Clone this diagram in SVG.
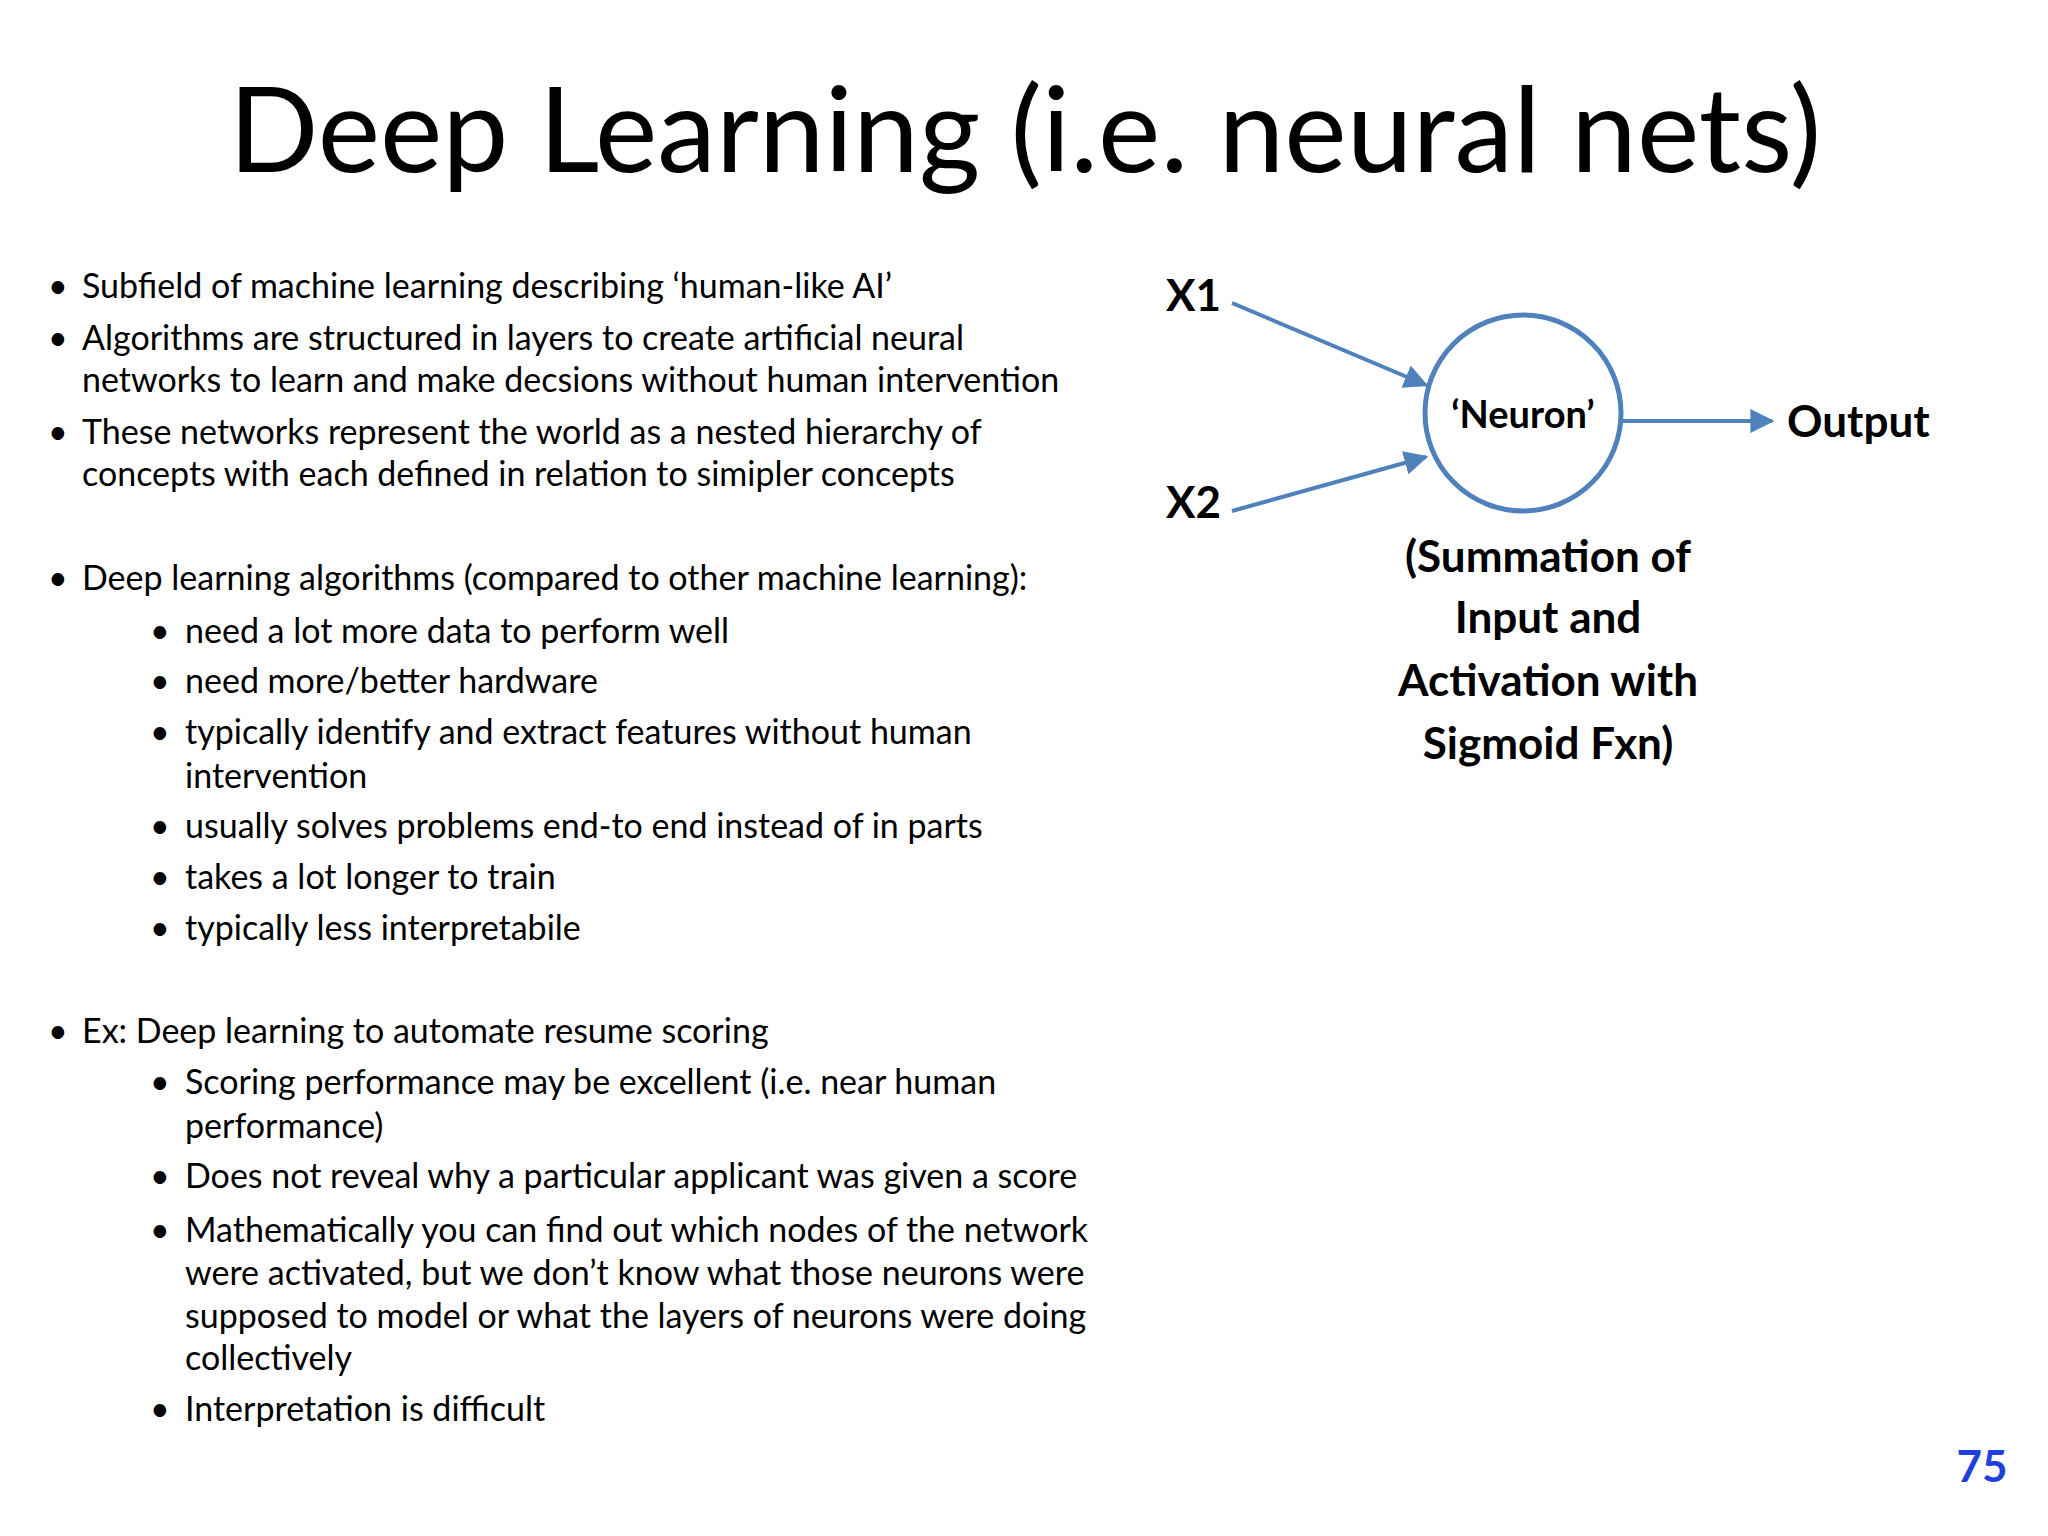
<svg xmlns="http://www.w3.org/2000/svg" width="2048" height="1536" viewBox="0 0 2048 1536">
<style>
text{font-family:Lato,"Open Sans","Liberation Sans",sans-serif;fill:#000}
.b{font-size:34px}
.l{font-size:44px;font-weight:bold}
.c{text-anchor:middle}
.e{stroke:#4f81bd;stroke-width:4;fill:none;marker-end:url(#a)}
</style>
<defs><marker id="a" viewBox="0 0 10 10" refX="9" refY="5" markerWidth="6" markerHeight="6" orient="auto" markerUnits="strokeWidth"><path d="M0,0L10,5L0,10z" fill="#4f81bd"/></marker></defs>
<rect width="2048" height="1536" fill="#fff"/>
<text x="1025" y="172" class="c" font-size="118">Deep Learning (i.e. neural nets)</text>
<g id="bullets" class="b">
<text x="48" y="298">•</text><text x="82" y="298">Subfield of machine learning describing ‘human-like AI’</text>
<text x="48" y="350">•</text><text x="82" y="350">Algorithms are structured in layers to create artificial neural</text>
<text x="82" y="392">networks to learn and make decsions without human intervention</text>
<text x="48" y="444">•</text><text x="82" y="444">These networks represent the world as a nested hierarchy of</text>
<text x="82" y="486">concepts with each defined in relation to simipler concepts</text>
<text x="48" y="590">•</text><text x="82" y="590">Deep learning algorithms (compared to other machine learning):</text>
<text x="150" y="643">•</text><text x="185" y="643">need a lot more data to perform well</text>
<text x="150" y="693">•</text><text x="185" y="693">need more/better hardware</text>
<text x="150" y="744">•</text><text x="185" y="744">typically identify and extract features without human</text>
<text x="185" y="788">intervention</text>
<text x="150" y="838">•</text><text x="185" y="838">usually solves problems end-to end instead of in parts</text>
<text x="150" y="889">•</text><text x="185" y="889">takes a lot longer to train</text>
<text x="150" y="940">•</text><text x="185" y="940">typically less interpretabile</text>
<text x="48" y="1043">•</text><text x="82" y="1043">Ex: Deep learning to automate resume scoring</text>
<text x="150" y="1094">•</text><text x="185" y="1094">Scoring performance may be excellent (i.e. near human</text>
<text x="185" y="1138">performance)</text>
<text x="150" y="1188">•</text><text x="185" y="1188">Does not reveal why a particular applicant was given a score</text>
<text x="150" y="1242">•</text><text x="185" y="1242">Mathematically you can find out which nodes of the network</text>
<text x="185" y="1285">were activated, but we don’t know what those neurons were</text>
<text x="185" y="1328">supposed to model or what the layers of neurons were doing</text>
<text x="185" y="1370">collectively</text>
<text x="150" y="1421">•</text><text x="185" y="1421">Interpretation is difficult</text>
</g>
<g id="connectors">
<line class="e" x1="1232" y1="303" x2="1426" y2="385"/>
<line class="e" x1="1232" y1="511" x2="1426" y2="457"/>
<line class="e" x1="1623" y1="421" x2="1772" y2="421"/>
</g>
<g id="x1"><text x="1166" y="311" class="l">X1</text></g>
<g id="x2"><text x="1166" y="518" class="l">X2</text></g>
<g id="neuron"><circle cx="1523" cy="413" r="98" fill="#fff" stroke="#4f81bd" stroke-width="5"/><text x="1523" y="428" class="c" font-size="38" font-weight="bold">‘Neuron’</text></g>
<g id="output"><text x="1787" y="437" class="l">Output</text></g>
<g id="caption" class="l c">
<text x="1548" y="572" class="l c">(Summation of</text>
<text x="1548" y="633" class="l c">Input and</text>
<text x="1548" y="696" class="l c">Activation with</text>
<text x="1548" y="759" class="l c">Sigmoid Fxn)</text>
</g>
<text x="1982" y="1482" class="c" font-size="44" font-weight="bold" style="fill:#1f3fe0">75</text>
</svg>
